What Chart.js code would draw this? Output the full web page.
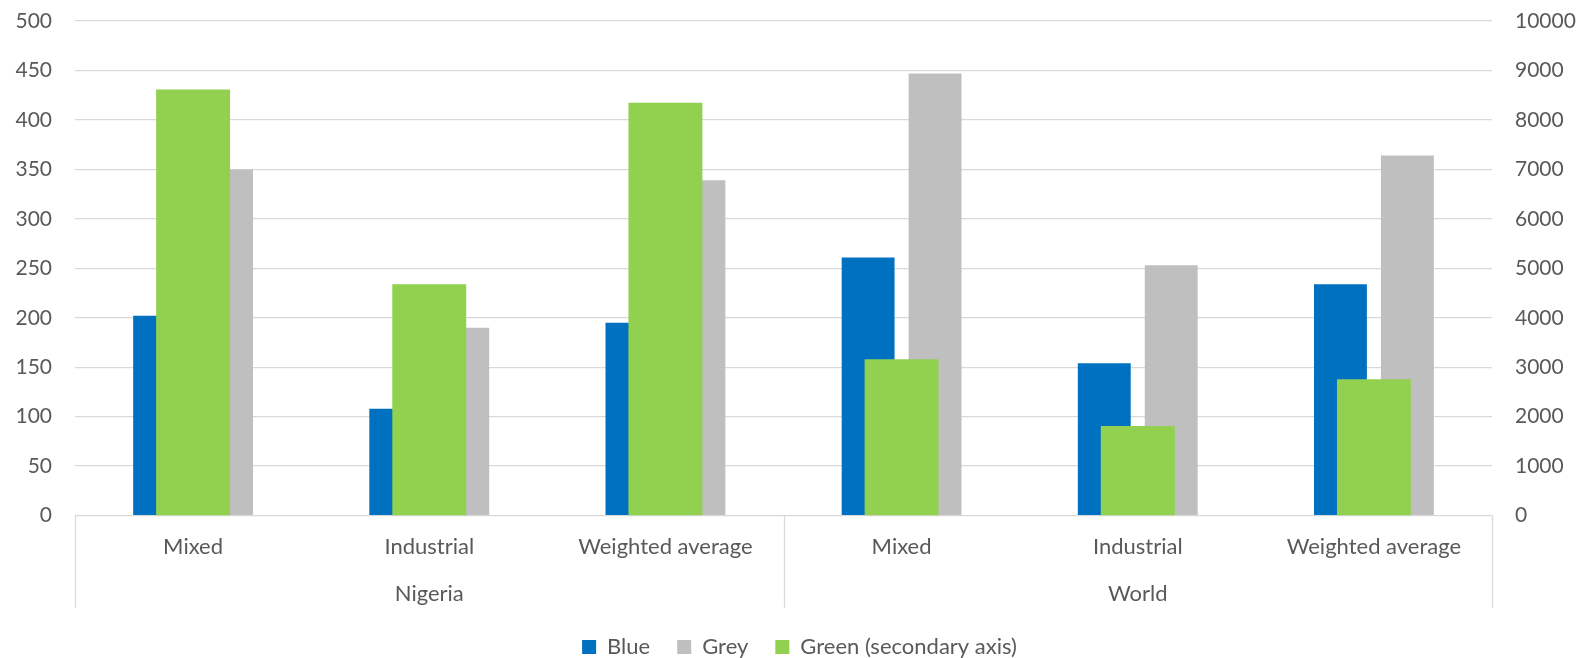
<!DOCTYPE html>
<html>
<head>
<meta charset="utf-8">
<script src="https://cdn.jsdelivr.net/npm/chart.js@4.4.1/dist/chart.umd.min.js"></script>
<style>
html,body{margin:0;padding:0;background:#fff;}
#wrap{width:1579px;height:658px;}
</style>
</head>
<body>
<div id="wrap"><canvas id="c" width="1579" height="658"></canvas></div>
<script>
const categories = ['Mixed', 'Industrial', 'Weighted average', 'Mixed', 'Industrial', 'Weighted average'];
const groups = ['Nigeria', 'World'];
const blueValues = [202, 108, 195, 261, 154, 234];
const greyValues = [350, 190, 339, 447, 253, 364];
const greenValues = [8615, 4680, 8345, 3160, 1810, 2755];
const seriesNames = ['Blue', 'Grey', 'Green (secondary axis)'];
const leftTicks = [0, 50, 100, 150, 200, 250, 300, 350, 400, 450, 500];
const rightTicks = [0, 1000, 2000, 3000, 4000, 5000, 6000, 7000, 8000, 9000, 10000];

const FONT = 'Lato';
const TXT = '#595959';
const GRID = '#d9d9d9';

const separators = {
  id: 'separators',
  afterLayout(chart) {
    if (chart.legend) { chart.legend.left += 10; chart.legend.right += 10; }
  },
  afterDraw(chart) {
    const x = chart.scales.x;
    const ca = chart.chartArea;
    const ctx = chart.ctx;
    const mid = x.getPixelForValue(2.5);
    ctx.save();
    ctx.strokeStyle = GRID;
    ctx.lineWidth = 1.3;
    [ca.left, mid, ca.right].forEach(px => {
      ctx.beginPath();
      ctx.moveTo(Math.round(px) + 0.5, ca.bottom);
      ctx.lineTo(Math.round(px) + 0.5, ca.bottom + 92);
      ctx.stroke();
    });
    ctx.restore();
  }
};

function fixV(width) {
  return s => { s.width = width; s.paddingTop = 0; s.paddingBottom = 0; };
}
function fixH(height) {
  return s => { s.height = height; s.paddingLeft = 0; s.paddingRight = 0; };
}

new Chart(document.getElementById('c'), {
  type: 'bar',
  data: {
    labels: categories,
    datasets: [
      { label: seriesNames[0], data: blueValues, backgroundColor: '#0070c0', yAxisID: 'y', order: 2,
        categoryPercentage: 0.567, barPercentage: 0.79 },
      { label: seriesNames[1], data: greyValues, backgroundColor: '#bfbfbf', yAxisID: 'y', order: 2,
        categoryPercentage: 0.567, barPercentage: 0.79 },
      { label: seriesNames[2], data: greenValues, backgroundColor: '#92d050', yAxisID: 'y2', order: 1,
        grouped: false, categoryPercentage: 1, barPercentage: 0.313 }
    ]
  },
  options: {
    responsive: false,
    animation: false,
    layout: { padding: { left: 0, right: 0, top: 21, bottom: -10 } },
    plugins: {
      tooltip: { enabled: false },
      legend: {
        position: 'bottom',
        labels: {
          sort: (a, b) => a.datasetIndex - b.datasetIndex,
          boxWidth: 14, boxHeight: 14, padding: 27,
          color: TXT, font: { family: FONT, size: 22 }
        }
      }
    },
    scales: {
      x: {
        type: 'category',
        position: 'bottom',
        afterFit: fixH(48),
        grid: { display: false, drawTicks: false, tickLength: 0 },
        border: { display: false },
        ticks: { color: TXT, font: { family: FONT, size: 22 }, padding: 18, maxRotation: 0, autoSkip: false }
      },
      x2: {
        type: 'category',
        labels: groups,
        position: 'bottom',
        offset: true,
        afterFit: fixH(45.4),
        grid: { display: false, drawTicks: false, tickLength: 0 },
        border: { display: false },
        ticks: { color: TXT, font: { family: FONT, size: 22 }, padding: 17, maxRotation: 0 }
      },
      y: {
        position: 'left',
        min: 0, max: 500,
        afterFit: fixV(75),
        afterBuildTicks: s => { s.ticks = leftTicks.map(v => ({ value: v })); },
        grid: { color: GRID, lineWidth: 1.3, drawTicks: false, tickLength: 0 },
        border: { display: false },
        ticks: { color: TXT, font: { family: FONT, size: 21 }, padding: 23, callback: v => String(v) }
      },
      y2: {
        position: 'right',
        min: 0, max: 10000,
        afterFit: fixV(87),
        afterBuildTicks: s => { s.ticks = rightTicks.map(v => ({ value: v })); },
        grid: { display: false, drawTicks: false, tickLength: 0 },
        border: { display: false },
        ticks: { color: TXT, font: { family: FONT, size: 21 }, padding: 23, callback: v => String(v) }
      }
    }
  },
  plugins: [separators]
});
</script>
</body>
</html>
